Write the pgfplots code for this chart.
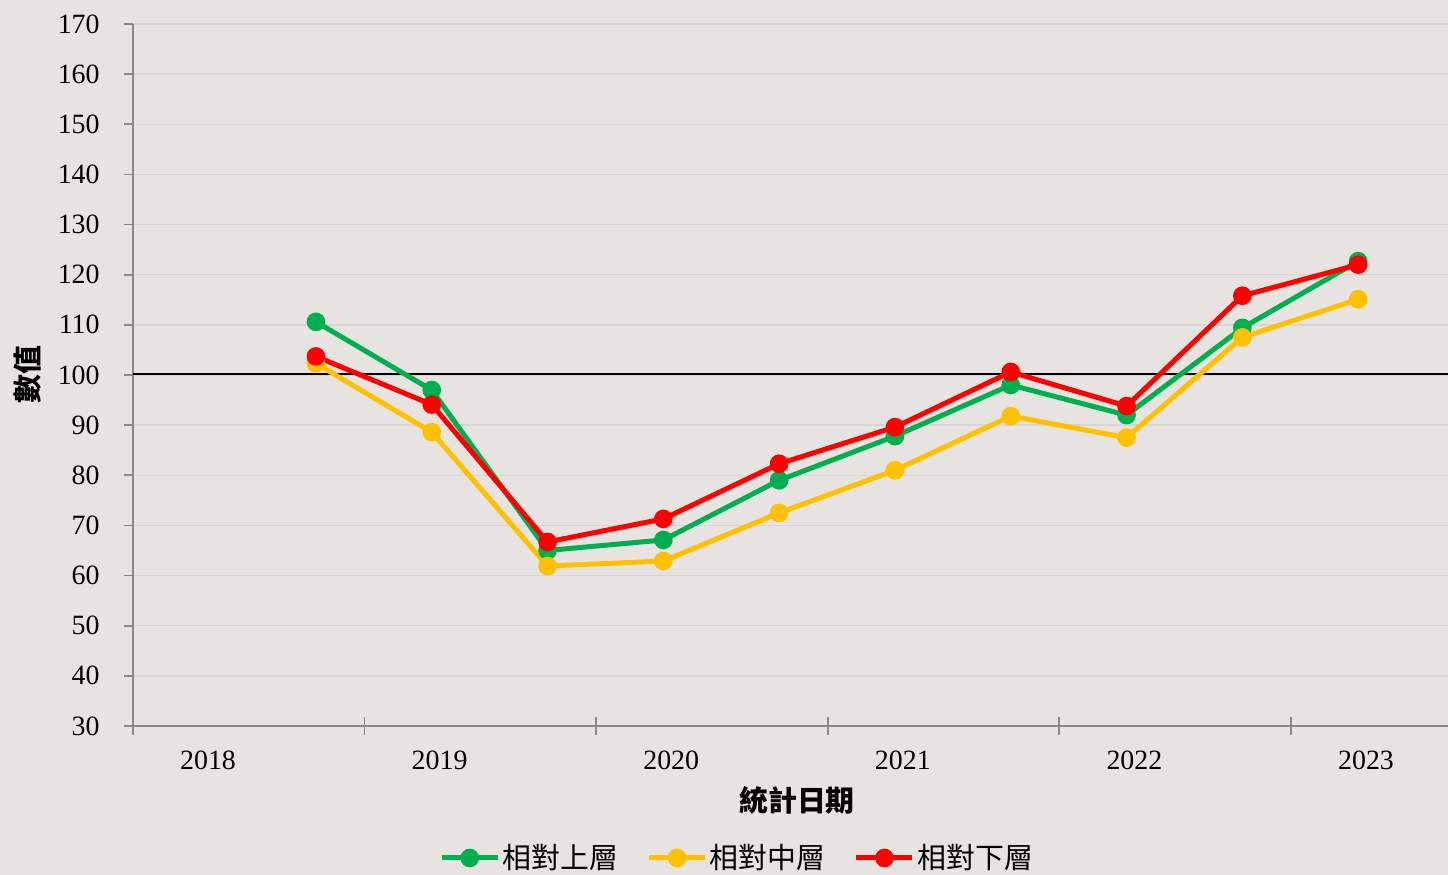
\documentclass[border=0pt]{standalone}
\usepackage{fontspec}
\setmainfont{Liberation Serif}
\newfontfamily\cjk{Noto Sans CJK TC}
\usepackage{pgfplots}
\pgfplotsset{compat=1.18}
\definecolor{bg}{RGB}{231,227,224}
\definecolor{gridc}{RGB}{217,213,213}
\definecolor{axc}{RGB}{137,137,137}
\definecolor{cg}{RGB}{0,176,80}
\definecolor{cy}{RGB}{255,192,0}
\definecolor{cr}{RGB}{255,0,0}
\begin{document}
\begin{tikzpicture}
\useasboundingbox[fill=bg] (0,0) rectangle (724bp,437.5bp);
\begin{axis}[
  at={(66.5bp,74.5bp)}, anchor=south west,
  scale only axis, width=657.5bp, height=351bp,
  xmin=0, xmax=5.678, ymin=30, ymax=170,
  axis x line=bottom, axis y line=left,
  axis line style={-, draw=axc, line width=0.9bp},
  xtick={0.324,1.324,2.324,3.324,4.324,5.324},
  xticklabels={2018,2019,2020,2021,2022,2023},
  xtick style={draw=none},
  xticklabel style={anchor=north, inner sep=0pt, yshift=-8bp},
  extra x ticks={0,1,2,3,4,5},
  extra x tick labels={},
  extra x tick style={major tick length=8.5bp, tick align=center, xtick style={draw=axc, line width=0.9bp}},
  tick align=outside,
  major tick length=4.5bp,
  ytick style={draw=axc, line width=0.9bp},
  ytick={30,40,...,170},
  yticklabel style={anchor=east, inner sep=0pt, xshift=-12bp},
  ymajorgrids, grid style={draw=gridc, line width=0.75bp},
  ticklabel style={font=\fontsize{14}{16}\selectfont},
  /pgf/number format/assume math mode=true,
  xlabel={\cjk\bfseries 統計日期},
  ylabel={\cjk\bfseries 數值},
  every axis x label/.style={at={(axis description cs:0.505,-0.1054)}, anchor=center, font=\fontsize{14.5}{16}\selectfont},
  every axis y label/.style={at={(axis description cs:-0.0798,0.5)}, anchor=center, rotate=90, font=\fontsize{14.5}{16}\selectfont},
  legend columns=-1,
  legend style={at={(axis description cs:0.4595,-0.188)}, anchor=center, draw=none, fill=none,
    font=\cjk\fontsize{14.5}{16}\selectfont, nodes={inner sep=1.2bp},
    /tikz/every even column/.append style={column sep=13bp}},
  legend cell align=left,
  legend image code/.code={\draw[mark repeat=2,mark phase=2,#1] plot coordinates {(0bp,0bp) (14bp,0bp) (28bp,0bp)};},
  clip=false,
]
\addplot[black, line width=1bp, forget plot] coordinates {(0,100.1) (5.678,100.1)};
\addplot[cg, line width=2.5bp, mark=*, mark size=3.4bp] coordinates {
 (0.79,110.6) (1.29,97.0) (1.79,65.0) (2.29,67.1) (2.79,79.0) (3.29,87.8) (3.79,98.0) (4.29,92.0) (4.79,109.4) (5.29,122.7)};
\addlegendentry{相對上層}
\addplot[cy, line width=2.5bp, mark=*, mark size=3.4bp] coordinates {
 (0.79,102.3) (1.29,88.6) (1.79,61.9) (2.29,62.9) (2.79,72.5) (3.29,81.0) (3.79,91.8) (4.29,87.5) (4.79,107.5) (5.29,115.1)};
\addlegendentry{相對中層}
\addplot[cr, line width=2.5bp, mark=*, mark size=3.4bp] coordinates {
 (0.79,103.7) (1.29,94.1) (1.79,66.7) (2.29,71.3) (2.79,82.3) (3.29,89.6) (3.79,100.6) (4.29,93.8) (4.79,115.8) (5.29,122.0)};
\addlegendentry{相對下層}
\end{axis}
\end{tikzpicture}
\end{document}
